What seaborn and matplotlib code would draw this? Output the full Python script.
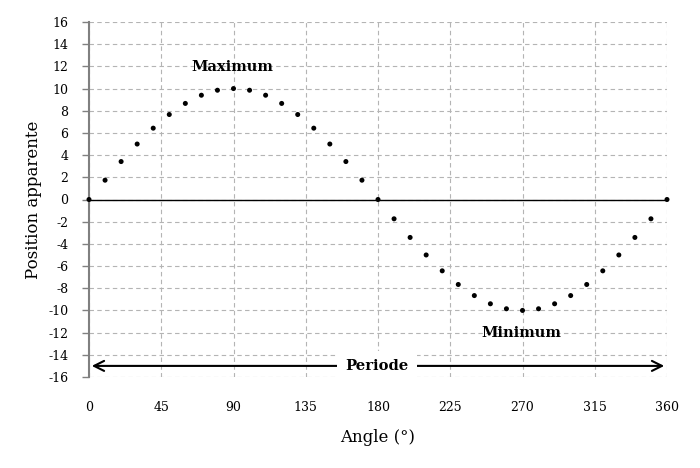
import matplotlib
matplotlib.use("Agg")
import matplotlib.pyplot as plt
import seaborn as sns
import pandas as pd

angles = [0, 10, 20, 30, 40, 50, 60, 70, 80, 90, 100, 110, 120, 130, 140, 150, 160, 170, 180,
          190, 200, 210, 220, 230, 240, 250, 260, 270, 280, 290, 300, 310, 320, 330, 340, 350, 360]
positions = [0, 1.74, 3.42, 5.0, 6.43, 7.66, 8.66, 9.4, 9.85, 10.0, 9.85, 9.4, 8.66, 7.66, 6.43, 5.0, 3.42, 1.74, 0,
             -1.74, -3.42, -5.0, -6.43, -7.66, -8.66, -9.4, -9.85, -10.0, -9.85, -9.4, -8.66, -7.66, -6.43, -5.0, -3.42, -1.74, 0]
x_ticks = [0, 45, 90, 135, 180, 225, 270, 315, 360]
y_ticks = list(range(-16, 17, 2))

df = pd.DataFrame({"angle": angles, "pos": positions})

sns.set_theme(style="white")
plt.rcParams['font.family'] = ['DejaVu Serif']
plt.rcParams['axes.unicode_minus'] = False
plt.rcParams['text.color'] = 'black'

fig = plt.figure(figsize=(7, 4.68), dpi=100)
ax = fig.add_axes([89/700, 1 - 377/468, (667-89)/700, (377-22)/468])

ax.set_xlim(0, 360)
ax.set_ylim(-16, 16)
ax.set_xticks(x_ticks)
ax.set_yticks(y_ticks)
ax.grid(True, color="#b4b4b4", linestyle=(0, (4, 3)), linewidth=0.8)
ax.set_axisbelow(True)
for s in ["top", "right", "bottom"]:
    ax.spines[s].set_visible(False)
ax.spines["left"].set_color("#808080")
ax.spines["left"].set_linewidth(1.5)

ax.axhline(0, color="black", linewidth=1, zorder=2)

sns.scatterplot(data=df, x="angle", y="pos", ax=ax, color="black", s=13,
                edgecolor="none", zorder=3, clip_on=False)

ax.tick_params(axis="x", length=0, pad=17, labelsize=9, colors="black")
ax.tick_params(axis="y", length=5, width=1, color="#808080", pad=10, labelsize=9, labelcolor="black", left=True)
ax.set_xlabel("Angle (°)", fontsize=12, labelpad=11, color="black")
ax.set_ylabel("Position apparente", fontsize=12, labelpad=4, color="black")

ax.annotate("", xy=(0, -15), xytext=(360, -15),
            arrowprops=dict(arrowstyle="<->", color="black", lw=1.5, mutation_scale=18),
            zorder=4)
ax.text(179.5, -15, "Periode", ha="center", va="center", fontsize=10.6, fontweight="bold",
        color="black", bbox=dict(facecolor="white", edgecolor="none", pad=6), zorder=5)
ax.text(89, 11.9, "Maximum", ha="center", va="center", fontsize=10.6, fontweight="bold",
        color="black", zorder=5)
ax.text(269, -12, "Minimum", ha="center", va="center", fontsize=10.6, fontweight="bold",
        color="black", zorder=5)

fig.savefig("out.png", dpi=100)
